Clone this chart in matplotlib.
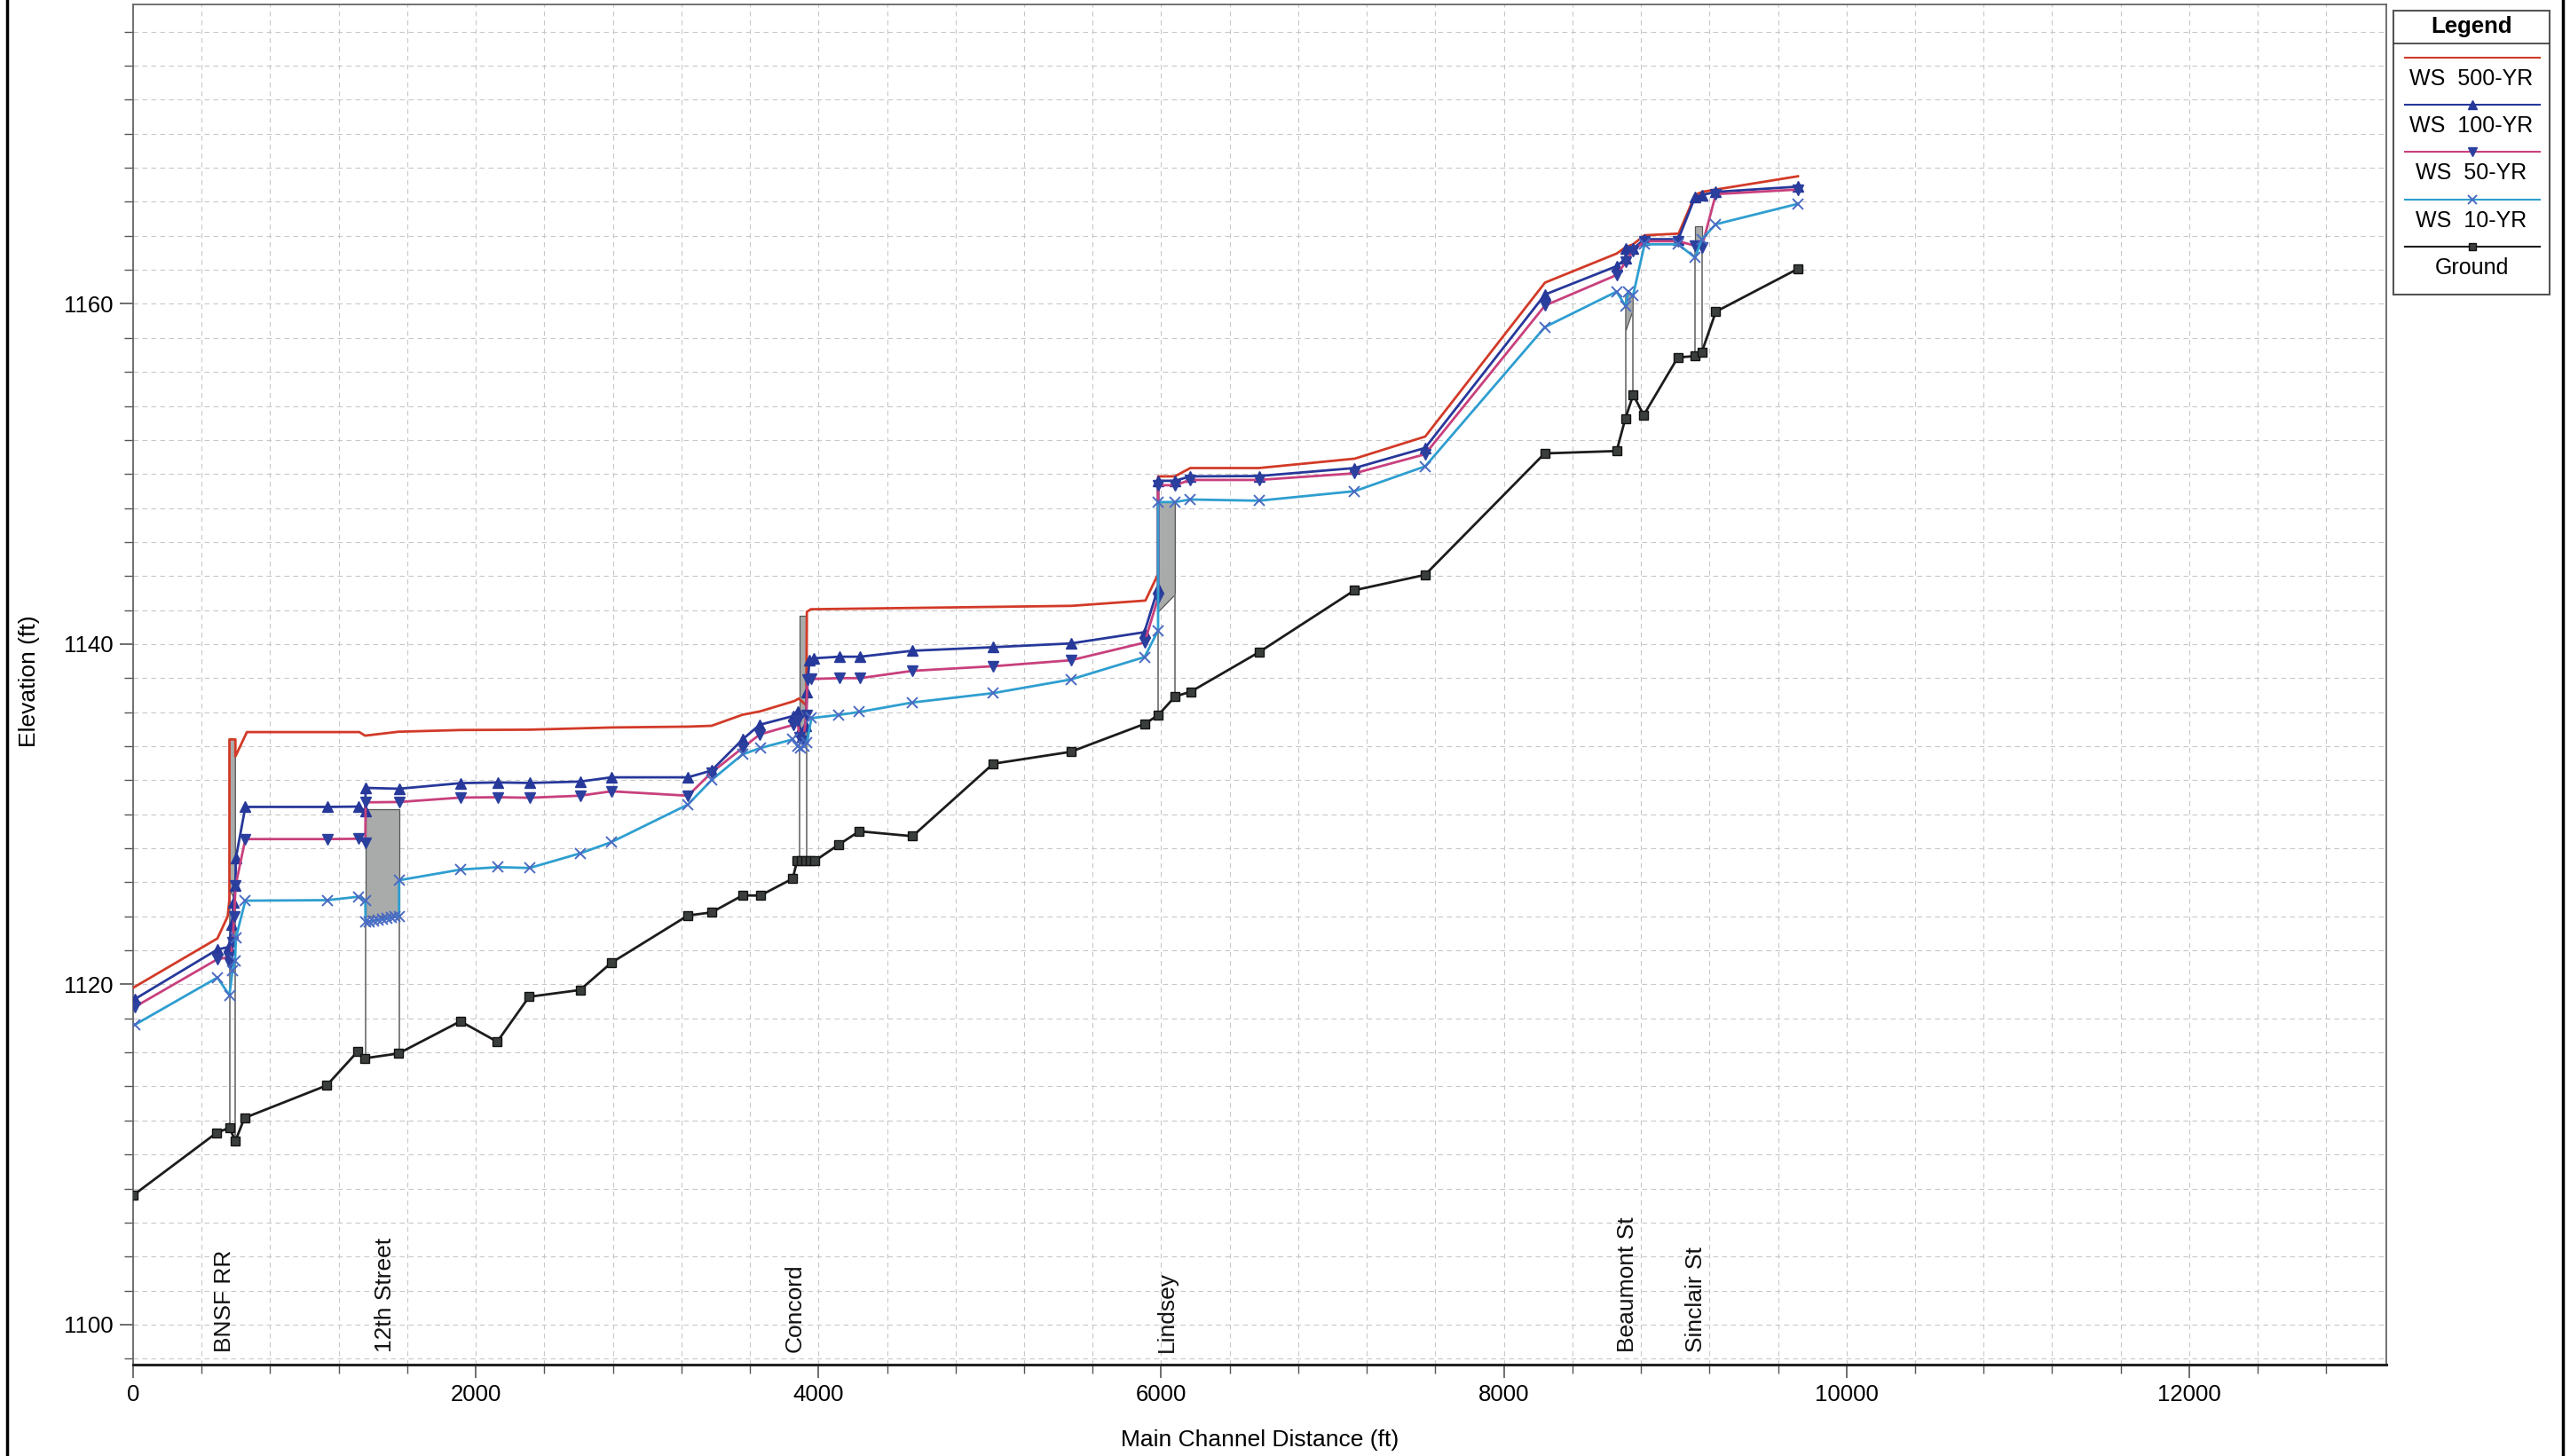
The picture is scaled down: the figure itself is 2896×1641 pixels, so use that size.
import matplotlib
matplotlib.use('Agg')
import matplotlib.pyplot as plt
import numpy as np
from matplotlib.lines import Line2D
from matplotlib.patches import Rectangle, Polygon
from matplotlib.ticker import MultipleLocator

plt.rcParams['font.family'] = ['Liberation Sans', 'DejaVu Sans']

# ---------------- data ----------------
ground_x = [0, 488, 562, 597, 650, 1130, 1311, 1354, 1549, 1910, 2125, 2311, 2608, 2791,
            3238, 3376, 3557, 3660, 3850, 3875, 3900, 3925, 3950, 3980, 4119, 4238, 4549,
            5020, 5472, 5903, 5982, 6082, 6172, 6570, 7129, 7540, 8238, 8658, 8709, 8755,
            8816, 9015, 9114, 9155, 9237, 9714]
ground_y = [1107.6, 1111.28, 1111.57, 1110.8, 1112.15, 1114.06, 1116.06, 1115.66, 1115.94,
            1117.83, 1116.63, 1119.27, 1119.67, 1121.27, 1124.05, 1124.23, 1125.23, 1125.22,
            1126.22, 1127.27, 1127.27, 1127.27, 1127.27, 1127.27, 1128.22, 1129.0, 1128.71,
            1132.97, 1133.67, 1135.31, 1135.82, 1136.93, 1137.2, 1139.52, 1143.17, 1144.07,
            1151.21, 1151.35, 1153.26, 1154.66, 1153.46, 1156.85, 1156.93, 1157.16, 1159.54,
            1162.05]

ws500_x = [0, 492, 552, 562, 562, 597, 597, 664, 1320, 1354, 1549, 1910, 2311, 2791, 3238,
           3376, 3557, 3660, 3858, 3885, 3929, 3932, 3955, 5477, 5908, 5982, 5982, 6080,
           6170, 6570, 7129, 7541, 8240, 8659, 8711, 8754, 8821, 9020, 9116, 9157, 9237, 9716]
ws500_y = [1119.8, 1122.7, 1124.0, 1125.0, 1134.4, 1134.4, 1133.4, 1134.83, 1134.83, 1134.62,
           1134.85, 1134.95, 1134.97, 1135.1, 1135.15, 1135.2, 1135.85, 1136.05, 1136.65,
           1136.8, 1136.4, 1141.9, 1142.05, 1142.25, 1142.56, 1144.12, 1149.86, 1149.86,
           1150.35, 1150.35, 1150.9, 1152.2, 1161.25, 1162.96, 1163.33, 1163.5, 1164.03,
           1164.13, 1166.4, 1166.58, 1166.72, 1167.5]

ws100_x = [9, 492, 560, 575, 587, 597, 600, 655, 1133, 1315, 1355, 1357, 1552, 1912, 2130,
           2313, 2608, 2791, 3238, 3376, 3557, 3657, 3855, 3877, 3890, 3905, 3925, 3933,
           3947, 3975, 4122, 4243, 4548, 5020, 5472, 5902, 5982, 5982, 6080, 6170, 6570,
           7129, 7540, 8240, 8659, 8711, 8711, 8754, 8820, 9018, 9116, 9155, 9237, 9716]
ws100_y = [1119.13, 1122.05, 1122.2, 1123.5, 1124.83, 1125.8, 1127.44, 1130.43, 1130.43,
           1130.45, 1130.2, 1131.55, 1131.5, 1131.83, 1131.87, 1131.84, 1131.92, 1132.17,
           1132.17, 1132.57, 1134.4, 1135.26, 1135.78, 1136.05, 1134.9, 1134.6, 1135.2,
           1137.17, 1139.05, 1139.17, 1139.26, 1139.26, 1139.61, 1139.82, 1140.04, 1140.7,
           1143.3, 1149.6, 1149.6, 1149.86, 1149.88, 1150.35, 1151.53, 1160.55, 1162.22,
           1162.67, 1163.24, 1163.24, 1163.8, 1163.8, 1166.29, 1166.4, 1166.58, 1166.89]

ws50_x = [9, 492, 560, 566, 580, 590, 598, 655, 1133, 1315, 1355, 1357, 1552, 1912, 2130,
          2313, 2608, 2791, 3238, 3376, 3557, 3657, 3855, 3877, 3890, 3910, 3929, 3935,
          3959, 4122, 4243, 4548, 5020, 5472, 5903, 5982, 5982, 6080, 6170, 6570, 7129,
          7540, 8240, 8659, 8711, 8754, 8820, 9018, 9116, 9155, 9237, 9716]
ws50_y = [1118.67, 1121.48, 1121.6, 1121.2, 1122.5, 1124.0, 1125.8, 1128.54, 1128.54,
          1128.56, 1128.33, 1130.7, 1130.72, 1130.98, 1131.0, 1130.97, 1131.09, 1131.35,
          1131.09, 1132.45, 1133.9, 1134.69, 1135.26, 1135.5, 1134.5, 1134.3, 1135.8,
          1137.9, 1137.95, 1138.0, 1138.0, 1138.43, 1138.7, 1139.05, 1140.09, 1142.73,
          1149.34, 1149.34, 1149.65, 1149.65, 1150.04, 1151.16, 1159.9, 1161.7, 1162.46,
          1163.1, 1163.68, 1163.68, 1163.42, 1163.33, 1166.45, 1166.72]

ws10_x = [9, 492, 562, 580, 595, 600, 655, 1133, 1313, 1355, 1357, 1380, 1405, 1430, 1455,
          1480, 1505, 1530, 1552, 1552, 1912, 2130, 2313, 2608, 2791, 3238, 3376, 3557,
          3660, 3850, 3877, 3895, 3915, 3932, 3959, 4119, 4238, 4549, 5020, 5472, 5903,
          5982, 5982, 6080, 6170, 6570, 7129, 7541, 8240, 8658, 8711, 8725, 8754, 8821,
          9018, 9116, 9155, 9237, 9716]
ws10_y = [1117.62, 1120.4, 1119.36, 1120.8, 1121.4, 1122.75, 1124.92, 1124.95, 1125.15,
          1124.95, 1123.65, 1123.7, 1123.75, 1123.8, 1123.85, 1123.9, 1123.95, 1123.97,
          1124.0, 1126.12, 1126.75, 1126.89, 1126.84, 1127.7, 1128.36, 1130.57, 1132.01,
          1133.52, 1133.89, 1134.4, 1134.0, 1133.9, 1134.0, 1134.2, 1135.65, 1135.84,
          1136.01, 1136.57, 1137.12, 1137.92, 1139.24, 1140.8, 1148.35, 1148.35, 1148.5,
          1148.43, 1148.99, 1150.45, 1158.64, 1160.72, 1159.85, 1160.7, 1160.5, 1163.5,
          1163.5, 1162.72, 1163.8, 1164.68, 1165.88]

bridge_names = ["BNSF RR", "12th Street", "Concord", "Lindsey", "Beaumont St", "Sinclair St"]
label_x = [533, 1470, 3862, 6034, 8722, 9123]
deck_left = [562, 1355, 3890, 5982, 8711, 9116]
deck_right = [597, 1552, 3930, 6082, 8754, 9155]
deck_top = [1134.4, 1130.31, 1141.69, 1148.35, 1160.55, 1164.55]
low_left = [1125.6, 1123.97, 1134.4, 1141.87, 1158.38, 1163.42]
low_right = [1124.9, 1123.97, 1134.4, 1142.9, 1159.6, 1163.42]

legend_labels = ["WS  500-YR", "WS  100-YR", "WS  50-YR", "WS  10-YR", "Ground"]

# ---------------- styles ----------------
C500 = '#D23A28'
C100 = '#26389A'
C50 = '#C8407D'
C10 = '#2E9ED0'
CM = '#2B3F9E'
CX = '#4A6BC2'
CG = '#1C1C1C'
CGM = '#3A3F3C'
GRAY = '#A9ABAA'

styles = [
    dict(color=C500, lw=2.0, marker=None),
    dict(color=C100, lw=2.0, marker='^', ms=8, mfc=C100, mec=C100),
    dict(color=C50, lw=2.0, marker='v', ms=8, mfc=CM, mec=CM),
    dict(color=C10, lw=2.0, marker='x', ms=8, mfc=CX, mec=CX, mew=1.4),
    dict(color=CG, lw=2.0, marker='s', ms=7, mfc=CGM, mec='#111111'),
]

W, H = 2896, 1641
fig = plt.figure(figsize=(W / 100, H / 100), dpi=100)
ax = fig.add_axes([150 / W, 1 - 1538 / H, (2689 - 150) / W, (1538 - 5) / H])
ax.set_xlim(0, 13150)
ax.set_ylim(1097.65, 1177.6)

# structures
for L, R, T, lo_l, lo_r in zip(deck_left, deck_right, deck_top, low_left, low_right):
    ax.add_patch(Polygon([(L, T), (R, T), (R, lo_r), (L, lo_l)], closed=True,
                         facecolor=GRAY, edgecolor='#555555', lw=0.9, zorder=2))
    gl = np.interp(L, ground_x, ground_y)
    gr = np.interp(R, ground_x, ground_y)
    ax.plot([L, L], [lo_l, gl], color='#808080', lw=1.4, zorder=2)
    ax.plot([R, R], [lo_r, gr], color='#808080', lw=1.4, zorder=2)

series = [(ws500_x, ws500_y), (ws100_x, ws100_y), (ws50_x, ws50_y), (ws10_x, ws10_y),
          (ground_x, ground_y)]
for (xs, ys), st in zip(series, styles):
    kw = dict(color=st['color'], lw=st['lw'], zorder=3)
    if st['marker']:
        kw.update(marker=st['marker'], ms=st['ms'], mfc=st['mfc'], mec=st['mec'],
                  mew=st.get('mew', 1.0))
    ax.plot(xs, ys, **kw)

for name, lx in zip(bridge_names, label_x):
    ax.text(lx, 1098.4, name, rotation=90, ha='center', va='bottom', fontsize=19,
            color='#111111', zorder=4)

# axes formatting
ax.set_xticks(np.arange(0, 13000, 2000))
ax.xaxis.set_minor_locator(MultipleLocator(400))
ax.set_yticks([1100, 1120, 1140, 1160])
ax.yaxis.set_minor_locator(MultipleLocator(2))
ax.tick_params(which='major', length=11, width=1.2, labelsize=18.5, direction='out',
               color='#555555', pad=5)
ax.tick_params(which='minor', length=7, width=1.0, direction='out', color='#555555')
ax.grid(which='both', linestyle=(0, (5, 4)), color='#C8C8C8', lw=0.8)
ax.set_axisbelow(True)
for s in ['left', 'right', 'top']:
    ax.spines[s].set_color('#666666')
    ax.spines[s].set_linewidth(1.3)
ax.spines['bottom'].set_color('#222222')
ax.spines['bottom'].set_linewidth(2.2)

fig.text(1420 / W, 1 - 1623 / H, 'Main Channel Distance (ft)', ha='center', va='center',
         fontsize=19)
fig.text(33 / W, 1 - 768 / H, 'Elevation (ft)', ha='center', va='center', rotation=90,
         fontsize=19)

# legend box
lax = fig.add_axes([2697 / W, 1 - 332 / H, 176 / W, 320 / H])
lax.set_xlim(0, 176)
lax.set_ylim(320, 0)
lax.axis('off')
lax.add_patch(Rectangle((0, 0), 176, 320, fill=False, edgecolor='#555555', lw=1.5,
                        clip_on=False))
lax.text(88, 18, 'Legend', fontweight='bold', ha='center', va='center', fontsize=18.5)
lax.plot([0, 176], [37, 37], color='#333333', lw=1.2)
for k, (lab, st) in enumerate(zip(legend_labels, styles)):
    yl = 53 + k * 53.2
    lax.plot([13, 165], [yl, yl], color=st['color'], lw=1.5)
    if st['marker']:
        lax.plot([89], [yl], marker=st['marker'], ms=st['ms'] - 1, mfc=st['mfc'],
                 mec=st['mec'], mew=st.get('mew', 1.0), ls='none')
    lax.text(88, yl + 24, lab, ha='center', va='center', fontsize=18)

# page border lines (scan edges)
fig.add_artist(Line2D([8 / W, 8 / W], [0, 1], color='black', lw=2.5))
fig.add_artist(Line2D([2888 / W, 2888 / W], [0, 1], color='black', lw=2.5))

fig.savefig('out.png', dpi=100, facecolor='white')
